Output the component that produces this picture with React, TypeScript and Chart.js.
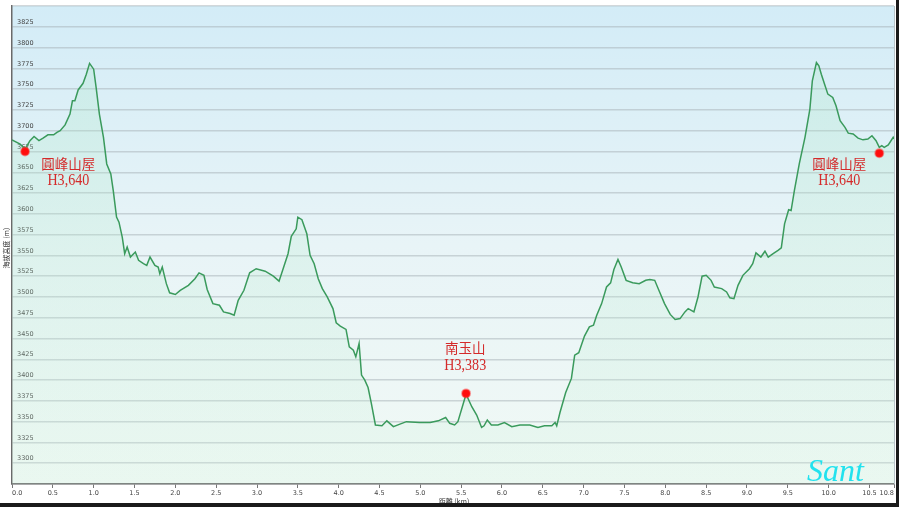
import React, { useEffect, useRef } from 'react';
import { Chart, registerables } from 'chart.js';

Chart.register(...registerables);

// distance along trail (km)
const distances = [
  0.00, 0.10, 0.16, 0.22, 0.27, 0.33, 0.38, 0.44, 0.51, 0.55, 0.59, 0.65, 0.71, 0.74, 0.77, 0.81, 0.87, 0.91, 0.95, 1.00,
  1.03, 1.07, 1.12, 1.16, 1.21, 1.24, 1.28, 1.31, 1.35, 1.38, 1.41, 1.45, 1.51, 1.55, 1.61, 1.65, 1.69, 1.75, 1.79, 1.81,
  1.84, 1.89, 1.93, 2.00, 2.06, 2.16, 2.24, 2.29, 2.35, 2.39, 2.46, 2.54, 2.59, 2.67, 2.72, 2.77, 2.84, 2.91, 2.99, 3.10,
  3.20, 3.27, 3.32, 3.38, 3.42, 3.48, 3.50, 3.55, 3.61, 3.65, 3.70, 3.75, 3.80, 3.86, 3.93, 3.97, 4.02, 4.09, 4.13, 4.18,
  4.21, 4.25, 4.28, 4.32, 4.36, 4.40, 4.45, 4.53, 4.59, 4.67, 4.75, 4.83, 4.99, 5.12, 5.22, 5.31, 5.36, 5.42, 5.46, 5.56,
  5.63, 5.69, 5.75, 5.78, 5.82, 5.87, 5.95, 6.03, 6.12, 6.22, 6.34, 6.44, 6.52, 6.61, 6.65, 6.67, 6.71, 6.78, 6.85, 6.89,
  6.94, 7.01, 7.07, 7.12, 7.16, 7.22, 7.28, 7.33, 7.37, 7.42, 7.46, 7.52, 7.60, 7.68, 7.76, 7.81, 7.87, 7.93, 7.99, 8.06,
  8.12, 8.18, 8.24, 8.28, 8.35, 8.40, 8.45, 8.50, 8.56, 8.60, 8.69, 8.75, 8.79, 8.84, 8.89, 8.95, 9.03, 9.07, 9.11, 9.17,
  9.22, 9.26, 9.32, 9.38, 9.42, 9.46, 9.51, 9.54, 9.58, 9.64, 9.71, 9.77, 9.80, 9.85, 9.88, 9.91, 9.95, 9.99, 10.05, 10.09,
  10.14, 10.20, 10.24, 10.30, 10.36, 10.42, 10.48, 10.53, 10.58, 10.62, 10.65, 10.68, 10.73, 10.79, 10.80,
];

// elevation (m)
const elevations = [
  3689, 3684, 3678, 3688, 3693, 3688, 3691, 3695, 3695, 3698, 3700, 3707, 3720, 3736, 3736, 3749, 3757, 3768, 3781, 3774,
  3752, 3720, 3692, 3660, 3648, 3628, 3596, 3590, 3572, 3552, 3560, 3548, 3554, 3544, 3540, 3538, 3548, 3538, 3536, 3528,
  3536, 3516, 3505, 3503, 3508, 3514, 3522, 3529, 3526, 3509, 3492, 3490, 3482, 3480, 3478, 3496, 3508, 3529, 3534, 3531,
  3525, 3519, 3534, 3552, 3573, 3582, 3596, 3593, 3576, 3550, 3540, 3522, 3510, 3500, 3486, 3469, 3465, 3461, 3440, 3436,
  3428, 3444, 3406, 3400, 3391, 3372, 3346, 3345, 3351, 3344, 3347, 3350, 3349, 3349, 3351, 3355, 3348, 3346, 3350, 3383,
  3368, 3358, 3343, 3345, 3352, 3346, 3346, 3349, 3344, 3346, 3346, 3343, 3345, 3345, 3349, 3345, 3361, 3385, 3402, 3430,
  3433, 3453, 3464, 3466, 3478, 3492, 3512, 3517, 3533, 3545, 3536, 3520, 3517, 3516, 3520, 3521, 3520, 3506, 3492, 3479,
  3473, 3474, 3482, 3486, 3482, 3500, 3525, 3526, 3520, 3512, 3510, 3506, 3499, 3498, 3514, 3526, 3534, 3540, 3553, 3548,
  3555, 3548, 3552, 3556, 3559, 3588, 3605, 3604, 3628, 3660, 3692, 3726, 3760, 3782, 3778, 3768, 3756, 3744, 3740, 3730,
  3712, 3704, 3697, 3696, 3691, 3689, 3690, 3694, 3688, 3680, 3682, 3680, 3683, 3692, 3690,
];

// red waypoint markers
const markerDist = [0.16, 5.56, 10.62];
const markerElev = [3675, 3384, 3673];

// waypoint labels
const labelNames = ['圓峰山屋', '南玉山', '圓峰山屋'];
const labelHeights = ['H3,640', 'H3,383', 'H3,640'];
const labelDist = [0.69, 5.55, 10.13];
const labelElev = [3650, 3428, 3650];

// axes
const xTickValues = [0, 0.5, 1, 1.5, 2, 2.5, 3, 3.5, 4, 4.5, 5, 5.5, 6, 6.5, 7, 7.5, 8, 8.5, 9, 9.5, 10, 10.5, 10.8];
const xMin = 0;
const xMax = 10.8;
const yMin = 3275;
const yMax = 3850;
const yStep = 25;
const xTitle = '距離 (km)';
const yTitle = '海拔高度 (m)';
const signature = 'Sant';

const tickFont = { family: '"DejaVu Sans", sans-serif', size: 6.5 };

const decorPlugin = {
  id: 'decor',
  beforeDraw(chart: any) {
    const { ctx, chartArea: a, width, height } = chart;
    ctx.save();
    ctx.fillStyle = '#ffffff';
    ctx.fillRect(0, 0, width, height);
    const g = ctx.createLinearGradient(0, a.top, 0, a.bottom);
    g.addColorStop(0, '#d3ecf7');
    g.addColorStop(0.5, '#e8f4f7');
    g.addColorStop(1, '#f1f9f5');
    ctx.fillStyle = g;
    ctx.fillRect(a.left, a.top, a.right - a.left, a.bottom - a.top);
    ctx.restore();
  },
  afterDatasetsDraw(chart: any) {
    const { ctx, chartArea: a, scales } = chart;
    const xs = scales.x;
    const ys = scales.y;
    ctx.save();
    // right border of plot
    ctx.strokeStyle = '#b8c4c8';
    ctx.lineWidth = 1;
    ctx.beginPath();
    ctx.moveTo(a.right + 0.5, a.top);
    ctx.lineTo(a.right + 0.5, a.bottom);
    ctx.stroke();

    // waypoint labels
    ctx.fillStyle = '#d42a2a';
    ctx.textAlign = 'center';
    ctx.textBaseline = 'middle';
    for (let i = 0; i < labelNames.length; i++) {
      const px = xs.getPixelForValue(labelDist[i]);
      const py = ys.getPixelForValue(labelElev[i]);
      ctx.font = '13.5px "Noto Sans CJK TC", sans-serif';
      ctx.fillText(labelNames[i], px, py - 8.5);
      ctx.save();
      ctx.translate(px, py + 8.5);
      ctx.scale(0.88, 1);
      ctx.font = '16px "Liberation Serif", serif';
      ctx.fillText(labelHeights[i], 0, 0);
      ctx.restore();
    }

    // signature
    ctx.fillStyle = '#22e2ee';
    ctx.textAlign = 'left';
    ctx.textBaseline = 'alphabetic';
    ctx.font = 'italic 32px "Liberation Serif", serif';
    ctx.fillText(signature, a.right - 87, a.bottom - 3);

    // axis titles
    ctx.fillStyle = '#333';
    ctx.font = '7px "Noto Sans CJK TC", sans-serif';
    ctx.textAlign = 'center';
    ctx.textBaseline = 'middle';
    ctx.fillText(xTitle, (a.left + a.right) / 2 + 1, chart.height - 7);
    ctx.save();
    ctx.translate(a.left - 6, (a.top + a.bottom) / 2 + 3);
    ctx.rotate(-Math.PI / 2);
    ctx.fillText(yTitle, 0, 0);
    ctx.restore();

    // image frame (right & bottom)
    ctx.fillStyle = '#1a1a1a';
    ctx.fillRect(chart.width - 4, 0, 3, chart.height - 1);
    ctx.fillRect(0, chart.height - 5, chart.width - 1, 4);
    ctx.restore();
  },
};

export default function App() {
  const canvasRef = useRef<HTMLCanvasElement | null>(null);

  useEffect(() => {
    const canvas = canvasRef.current;
    if (!canvas) return;
    const profile = distances.map((d, i) => ({ x: d, y: elevations[i] }));
    const markers = markerDist.map((d, i) => ({ x: d, y: markerElev[i] }));

    const chart = new Chart(canvas, {
      type: 'line',
      data: {
        datasets: [
          {
            label: 'markers',
            data: markers,
            showLine: false,
            pointRadius: 4,
            pointBackgroundColor: '#ff0d0d',
            pointBorderColor: 'rgba(255,40,40,0.45)',
            pointBorderWidth: 2,
          } as any,
          {
            label: 'profile',
            data: profile,
            borderColor: '#3a9a5c',
            borderWidth: 1.5,
            pointRadius: 0,
            tension: 0,
            fill: 'start',
            backgroundColor: (ctx: any) => {
              const { chart: c } = ctx;
              const a = c.chartArea;
              if (!a) return 'rgba(170,230,195,0.25)';
              const g = c.ctx.createLinearGradient(0, a.top, 0, a.bottom);
              g.addColorStop(0, 'rgba(160,228,190,0.26)');
              g.addColorStop(1, 'rgba(205,242,220,0.2)');
              return g;
            },
          } as any,
        ],
      },
      options: {
        responsive: false,
        animation: false,
        events: [],
        layout: { padding: { top: 4, right: 6, left: 0, bottom: 0 } },
        plugins: {
          legend: { display: false },
          tooltip: { enabled: false },
          title: { display: false },
        },
        scales: {
          x: {
            type: 'linear',
            min: xMin,
            max: xMax,
            afterBuildTicks: (s: any) => {
              s.ticks = xTickValues.map((v) => ({ value: v }));
            },
            afterFit: (s: any) => {
              s.height = 24;
              s.paddingLeft = 0;
              s.paddingRight = 0;
            },
            ticks: {
              autoSkip: false,
              maxRotation: 0,
              minRotation: 0,
              align: 'inner',
              padding: 1,
              color: '#444',
              font: tickFont,
              callback: (v: any) => Number(v).toFixed(1),
            },
            grid: { drawOnChartArea: false, drawTicks: true, tickLength: 4, color: '#777' },
            border: { color: '#6a6a6a', width: 1.5 },
          },
          y: {
            type: 'linear',
            min: yMin,
            max: yMax,
            afterFit: (s: any) => {
              s.width = 12;
              s.paddingTop = 0;
              s.paddingBottom = 0;
            },
            ticks: {
              stepSize: yStep,
              mirror: true,
              padding: 5,
              labelOffset: -4.5,
              color: '#444',
              font: tickFont,
              callback: (v: any) => (v === yMin || v === yMax ? '' : String(v)),
            },
            grid: { color: 'rgba(165,176,182,0.5)', lineWidth: 1.5, drawTicks: false },
            border: { color: '#6a6a6a', width: 1.5 },
          },
        },
      } as any,
      plugins: [decorPlugin],
    });
    return () => chart.destroy();
  }, []);

  return (
    <div style={{ position: 'fixed', left: 0, top: 0, width: 900, height: 508, background: '#fff' }}>
      <canvas ref={canvasRef} width={900} height={508} style={{ display: 'block', width: 900, height: 508 }} />
    </div>
  );
}
